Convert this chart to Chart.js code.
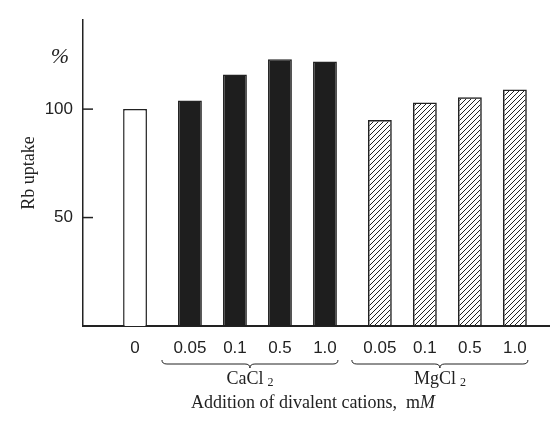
<!DOCTYPE html>
<html>
<head>
<meta charset="utf-8">
<script src="https://cdn.jsdelivr.net/npm/chart.js@4"></script>
<style>
  html, body { margin: 0; padding: 0; background: #fff; }
  #wrap { width: 550px; height: 432px; }
</style>
</head>
<body>
<div id="wrap"><canvas id="rbChart"></canvas></div>
<script>
// data
const doseLabels = ['0', '0.05', '0.1', '0.5', '1.0', '0.05', '0.1', '0.5', '1.0'];
const groupOf = [0, 1, 1, 1, 1, 2, 2, 2, 2];          // 0 = control, 1 = CaCl2, 2 = MgCl2
const groupNames = ['', 'CaCl', 'MgCl'];
const rbUptake = [100, 104, 116, 123, 122, 95, 103, 105.5, 109];
const yTicks = [50, 100];

const GROUP_GAP = 0.22;   // extra space between groups, in bar slots
const xPos = doseLabels.map((_, i) => i + GROUP_GAP * groupOf[i]);
const serif = "'Liberation Serif', 'DejaVu Serif', serif";
const sans = "'Liberation Sans', 'DejaVu Sans', sans-serif";
const ink = '#222';

// diagonal hatch for MgCl2
function hatch() {
    const c = document.createElement('canvas');
    c.width = 5; c.height = 5;
    const g = c.getContext('2d');
    g.strokeStyle = ink;
    g.lineWidth = 1;
    g.beginPath();
    g.moveTo(-1, 6); g.lineTo(6, -1);
    g.moveTo(-1, 1); g.lineTo(1, -1);
    g.moveTo(4, 6); g.lineTo(6, 4);
    g.stroke();
    return g.createPattern(c, 'repeat');
}
const hatchFill = hatch();
const fills = groupOf.map(g => g === 0 ? '#fff' : g === 1 ? '#1e1e1e' : hatchFill);

const extras = {
    id: 'extras',
    afterDraw(chart) {
        const { ctx, scales: { x, y } } = chart;
        ctx.save();
        ctx.strokeStyle = ink;
        ctx.fillStyle = ink;
        ctx.lineWidth = 1.5;
        // inward y ticks
        yTicks.forEach(v => {
            const py = y.getPixelForValue(v);
            ctx.beginPath();
            ctx.moveTo(x.left, py); ctx.lineTo(x.left + 10, py);
            ctx.stroke();
        });
        // % unit
        ctx.font = 'italic 22px ' + serif;
        ctx.textAlign = 'center';
        ctx.textBaseline = 'middle';
        ctx.fillText('%', 60, 57);

        // braces + group names
        ctx.lineWidth = 1;
        [1, 2].forEach(g => {
            const idx = groupOf.map((v, i) => v === g ? i : -1).filter(i => i >= 0);
            const x0 = x.getPixelForValue(xPos[idx[0]]) - 28;
            const x1 = x.getPixelForValue(xPos[idx[idx.length - 1]]) + 13;
            const xm = (x0 + x1) / 2;
            const top = 360, mid = 364, tip = 368;
            ctx.beginPath();
            ctx.moveTo(x0, top);
            ctx.quadraticCurveTo(x0, mid, x0 + 5, mid);
            ctx.lineTo(xm - 5, mid);
            ctx.quadraticCurveTo(xm, mid, xm, tip);
            ctx.quadraticCurveTo(xm, mid, xm + 5, mid);
            ctx.lineTo(x1 - 5, mid);
            ctx.quadraticCurveTo(x1, mid, x1, top);
            ctx.stroke();

            ctx.font = '18px ' + serif;
            const name = groupNames[g];
            const w = ctx.measureText(name).width;
            ctx.font = '12px ' + serif;
            const w2 = ctx.measureText('2').width;
            const sx = xm - (w + 4 + w2) / 2;
            ctx.textAlign = 'left';
            ctx.font = '18px ' + serif;
            ctx.fillText(name, sx, 379);
            ctx.font = '12px ' + serif;
            ctx.fillText('2', sx + w + 4, 383);
        });

        // x axis title with italic M
        const t1 = 'Addition of divalent cations,  m';
        ctx.font = '18px ' + serif;
        const w1 = ctx.measureText(t1).width;
        ctx.font = 'italic 18px ' + serif;
        const wM = ctx.measureText('M').width;
        const tx = 313 - (w1 + wM) / 2;
        ctx.textAlign = 'left';
        ctx.font = '18px ' + serif;
        ctx.fillText(t1, tx, 403);
        ctx.font = 'italic 18px ' + serif;
        ctx.fillText('M', tx + w1, 403);
        ctx.restore();
    }
};

new Chart(document.getElementById('rbChart'), {
    type: 'bar',
    data: {
        datasets: [{
            data: rbUptake.map((v, i) => ({ x: xPos[i], y: v })),
            backgroundColor: fills,
            borderColor: ink,
            borderWidth: 1.5,
            categoryPercentage: 1,
            barPercentage: 0.53
        }]
    },
    options: {
        responsive: true,
        maintainAspectRatio: false,
        animation: false,
        layout: { padding: { top: 10, right: 0, left: 0, bottom: 0 } },
        plugins: { legend: { display: false }, tooltip: { enabled: false } },
        scales: {
            x: {
                type: 'linear',
                offset: false,
                min: -1.156,
                max: 9.22,
                grid: { display: false, drawTicks: false, offset: false },
                border: { display: true, color: ink, width: 2 },
                afterBuildTicks: s => { s.ticks = xPos.map(v => ({ value: v })); },
                afterFit: s => { s.height = 106; },
                ticks: {
                    autoSkip: false,
                    maxRotation: 0,
                    padding: 12,
                    color: ink,
                    font: { family: sans, size: 17 },
                    callback: (v, i) => doseLabels[i]
                }
            },
            y: {
                min: 0,
                max: 141,
                grid: { display: false, drawTicks: false },
                border: { display: true, color: ink, width: 1.5 },
                afterBuildTicks: s => { s.ticks = yTicks.map(v => ({ value: v })); },
                afterFit: s => { s.width = 83; },
                ticks: {
                    padding: 10,
                    color: ink,
                    font: { family: sans, size: 17 }
                },
                title: {
                    display: true,
                    text: 'Rb uptake',
                    color: ink,
                    font: { family: serif, size: 18 },
                    padding: { top: 18, bottom: 0 }
                }
            }
        }
    },
    plugins: [extras]
});
</script>
</body>
</html>
